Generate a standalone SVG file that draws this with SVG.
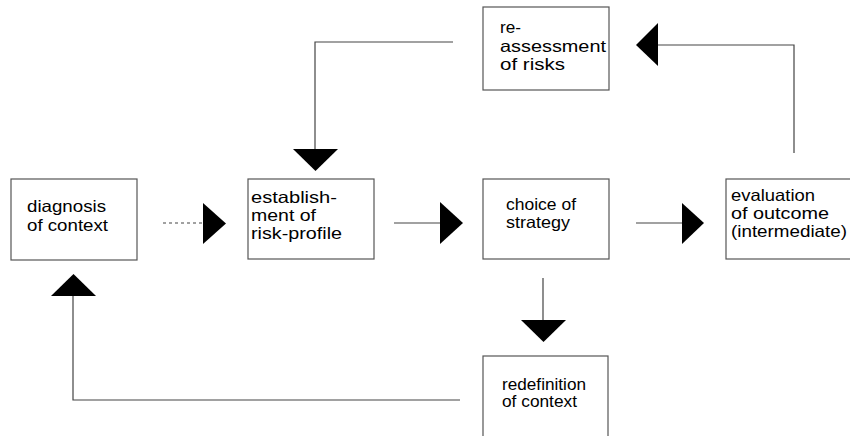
<svg xmlns="http://www.w3.org/2000/svg" width="850" height="436" viewBox="0 0 850 436">
<style>
.box{fill:#fff;stroke:#555;stroke-width:1.2}
.lbl{font-family:"Liberation Sans",Arial,sans-serif;font-size:16.5px;fill:#000}
.ln{fill:none;stroke:#444;stroke-width:1.2}
.ah{fill:#000;stroke:none}
</style>
<rect width="850" height="436" fill="#fff"/>
<g id="connectors">
  <line class="ln" x1="163" y1="223" x2="204" y2="223" stroke-dasharray="3,3"/>
  <polygon class="ah" points="203,203 226,223.5 203,244"/>
  <line class="ln" x1="394" y1="223" x2="441" y2="223"/>
  <polygon class="ah" points="440,202 463,223 440,244"/>
  <line class="ln" x1="636" y1="223" x2="683" y2="223"/>
  <polygon class="ah" points="682,203 704,223 682,244"/>
  <polyline class="ln" points="794,153 794,45 657,45"/>
  <polygon class="ah" points="658,23 636,45 658,66"/>
  <polyline class="ln" points="453,42 315,42 315,150"/>
  <polygon class="ah" points="293,149 338,149 315.5,171"/>
  <line class="ln" x1="543" y1="278" x2="543" y2="321"/>
  <polygon class="ah" points="521,320 566,320 543.5,342"/>
  <polyline class="ln" points="460,400 73,400 73,295"/>
  <polygon class="ah" points="51,296 96,296 73.5,274"/>
</g>
<g id="diagnosis">
  <rect class="box" x="11" y="179" width="126" height="81"/>
  <text class="lbl" x="27" y="212" textLength="79" lengthAdjust="spacingAndGlyphs">diagnosis</text>
  <text class="lbl" x="27" y="231" textLength="81" lengthAdjust="spacingAndGlyphs">of context</text>
</g>
<g id="establishment">
  <rect class="box" x="248" y="179" width="126" height="80"/>
  <text class="lbl" x="251" y="203" textLength="86" lengthAdjust="spacingAndGlyphs">establish-</text>
  <text class="lbl" x="251" y="221" textLength="65" lengthAdjust="spacingAndGlyphs">ment of</text>
  <text class="lbl" x="251" y="239" textLength="91" lengthAdjust="spacingAndGlyphs">risk-profile</text>
</g>
<g id="choice">
  <rect class="box" x="483" y="179" width="126" height="80"/>
  <text class="lbl" x="506" y="210" textLength="70" lengthAdjust="spacingAndGlyphs">choice of</text>
  <text class="lbl" x="506" y="228" textLength="64" lengthAdjust="spacingAndGlyphs">strategy</text>
</g>
<g id="evaluation">
  <rect class="box" x="726" y="179" width="130" height="80"/>
  <text class="lbl" x="731" y="201" textLength="84" lengthAdjust="spacingAndGlyphs">evaluation</text>
  <text class="lbl" x="731" y="219" textLength="98" lengthAdjust="spacingAndGlyphs">of outcome</text>
  <text class="lbl" x="731" y="237" textLength="116" lengthAdjust="spacingAndGlyphs">(intermediate)</text>
</g>
<g id="reassessment">
  <rect class="box" x="483" y="7" width="126" height="83"/>
  <text class="lbl" x="500" y="33" textLength="21" lengthAdjust="spacingAndGlyphs">re-</text>
  <text class="lbl" x="500" y="52" textLength="106" lengthAdjust="spacingAndGlyphs">assessment</text>
  <text class="lbl" x="500" y="70" textLength="65" lengthAdjust="spacingAndGlyphs">of risks</text>
</g>
<g id="redefinition">
  <rect class="box" x="483" y="356" width="125" height="90"/>
  <text class="lbl" x="502" y="390" textLength="84" lengthAdjust="spacingAndGlyphs">redefinition</text>
  <text class="lbl" x="502" y="407" textLength="75" lengthAdjust="spacingAndGlyphs">of context</text>
</g>
</svg>
